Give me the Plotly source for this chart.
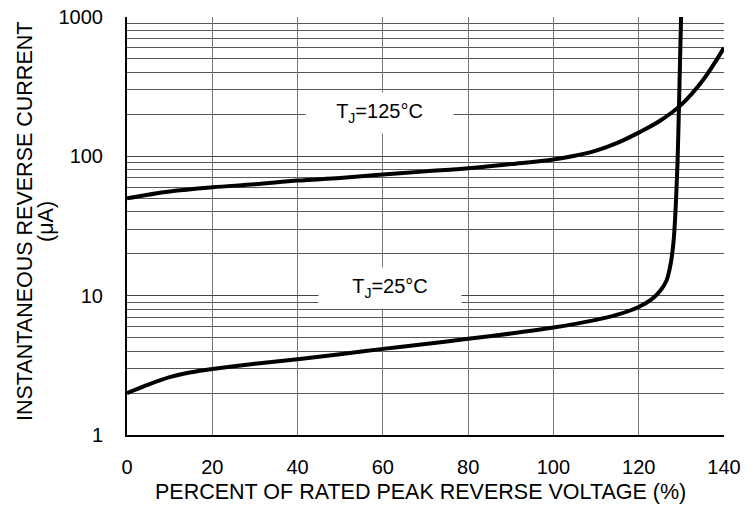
import math
import plotly.graph_objects as go

# Data
x_125 = [0, 10, 20, 30, 40, 50, 60, 70, 80, 90, 100, 105, 110, 115, 120, 125, 130, 135, 140]
y_125 = [50, 56, 60, 63, 67, 70, 74, 78, 82, 88, 95, 101, 110, 125, 148, 180, 235, 350, 600]

x_25 = [0, 5, 10, 15, 20, 30, 40, 50, 60, 70, 80, 90, 100, 110, 115, 120, 123, 125, 126.5, 127.5, 128.2, 128.7, 129.1, 129.4, 129.7, 130.0]
y_25 = [2.0, 2.3, 2.6, 2.82, 2.98, 3.25, 3.5, 3.8, 4.15, 4.5, 4.9, 5.35, 5.9, 6.7, 7.3, 8.3, 9.4, 10.8, 12.8, 17, 25, 45, 90, 200, 500, 1200]

x_ticks = [0, 20, 40, 60, 80, 100, 120, 140]
y_ticks = [1, 10, 100, 1000]
y_tick_labels = ["1", "10", "100", "1000"]

labels = ["T<sub>J</sub>=125°C", "T<sub>J</sub>=25°C"]
label_x = [59.3, 61.7]
label_y = [205, 11.4]

x_title = "PERCENT OF RATED PEAK REVERSE VOLTAGE (%)"
y_title_lines = ["INSTANTANEOUS REVERSE CURRENT", "(μA)"]

font = "Liberation Sans, Arial, sans-serif"

fig = go.Figure()
fig.add_trace(go.Scatter(x=x_125, y=y_125, mode="lines", line=dict(color="black", width=4, shape="spline"),
                         showlegend=False, cliponaxis=True))
fig.add_trace(go.Scatter(x=x_25, y=y_25, mode="lines", line=dict(color="black", width=4, shape="spline", smoothing=0.6),
                         showlegend=False, cliponaxis=True))

for t, lx, ly, w in zip(labels, label_x, label_y, [145, 140]):
    fig.add_annotation(x=lx, y=math.log10(ly), yref="y", xref="x", text=t, showarrow=False,
                       font=dict(family=font, size=20, color="black"),
                       bgcolor="white", width=w, height=38)

fig.add_annotation(x=0.491, y=0, xref="paper", yref="paper", yanchor="middle", yshift=-57,
                   text=x_title, showarrow=False, font=dict(family=font, size=21.5, color="black"))
for line, xs in zip(y_title_lines, [-102, -81]):
    fig.add_annotation(x=0, y=0.5096, xref="paper", yref="paper", xanchor="center", yanchor="middle",
                       xshift=xs, text=line, textangle=-90, showarrow=False,
                       font=dict(family=font, size=21.5, color="black"))

fig.update_layout(
    width=739, height=500,
    margin=dict(l=119, r=23, t=9, b=73),
    paper_bgcolor="white", plot_bgcolor="white",
    font=dict(family=font, size=20, color="black"),
)
fig.update_xaxes(range=[0, 140], tickvals=x_ticks, showgrid=True, gridcolor="#777", gridwidth=1,
                 showline=True, linecolor="black", linewidth=2, ticks="", zeroline=False,
                 automargin=False, ticklabelstandoff=13, ticklabeloverflow="allow", tickfont=dict(size=20))
fig.update_yaxes(type="log", range=[0, 3], tickvals=y_ticks, ticktext=y_tick_labels,
                 showgrid=True, gridcolor="#444", gridwidth=1,
                 minor=dict(showgrid=True, gridcolor="#555", gridwidth=1, dtick="D1", ticks=""),
                 showline=True, linecolor="black", linewidth=2, ticks="", zeroline=False,
                 automargin=False, ticklabelstandoff=18, ticklabeloverflow="allow", tickfont=dict(size=20))

fig.write_html("out.html")
